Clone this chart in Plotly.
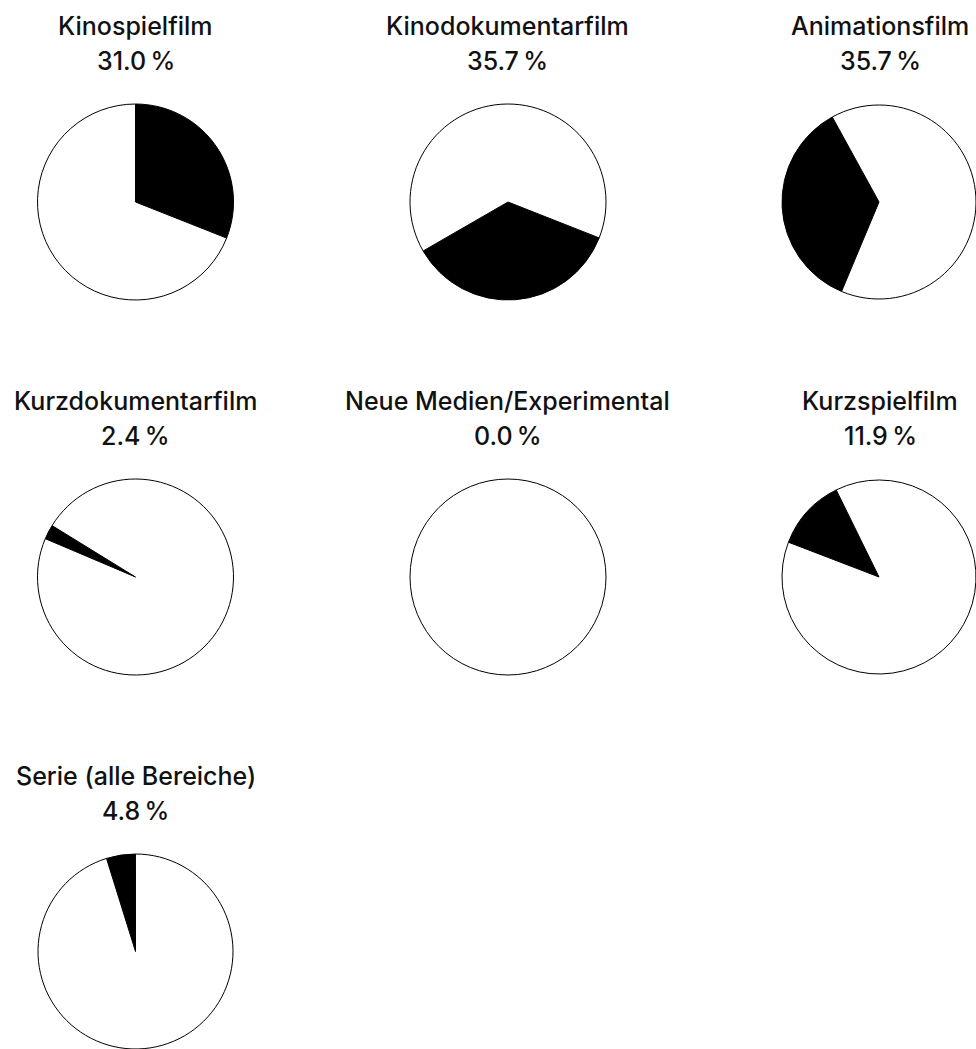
import plotly.graph_objects as go

# Share of funded projects per category (percent)
categories = [
    "Kinospielfilm",
    "Kinodokumentarfilm",
    "Animationsfilm",
    "Kurzdokumentarfilm",
    "Neue Medien/Experimental",
    "Kurzspielfilm",
    "Serie (alle Bereiche)",
]
shares = [31.0, 35.7, 35.7, 2.4, 0.0, 11.9, 4.8]

# Start angle of each highlighted slice (degrees clockwise from 12 o'clock)
start_angles = [0, 111.5, 202.7, 293, 0, 291, 342.7]

W, H = 976, 1049
COL_X = [135.5, 508, 880]
ROW_Y = [202, 577, 952]
R = 98
FONT = "Inter"

fig = go.Figure()

for i, (name, share, rot) in enumerate(zip(categories, shares, start_angles)):
    cx = COL_X[i % 3]
    cy = ROW_Y[i // 3]
    x0 = max(0.0, (cx - R) / W)
    x1 = min(1.0, (cx + R) / W)
    y0 = max(0.0, 1 - (cy + R) / H)
    y1 = min(1.0, 1 - (cy - R) / H)
    fig.add_trace(go.Pie(
        values=[share, 100 - share],
        labels=["Anteil", "Rest"],
        sort=False,
        direction="clockwise",
        rotation=rot,
        marker=dict(colors=["#000000", "#ffffff"],
                    line=dict(color="#000000", width=1)),
        textinfo="none",
        hoverinfo="skip",
        showlegend=False,
        domain=dict(x=[x0, x1], y=[y0, y1]),
    ))
    top = cy - R
    fig.add_annotation(
        x=cx / W, y=1 - (top - 78) / H, xref="paper", yref="paper",
        text=name, showarrow=False, xanchor="center", yanchor="middle",
        font=dict(family=FONT, size=25, color="#111111", weight=500),
    )
    fig.add_annotation(
        x=cx / W, y=1 - (top - 43) / H, xref="paper", yref="paper",
        text=f"{share:.1f}\u2009%", showarrow=False, xanchor="center", yanchor="middle",
        font=dict(family=FONT, size=25, color="#111111", weight=500),
    )

fig.update_layout(
    width=W, height=H,
    margin=dict(l=0, r=0, t=0, b=0),
    paper_bgcolor="white",
    plot_bgcolor="white",
)

fig.write_html("out.html")
